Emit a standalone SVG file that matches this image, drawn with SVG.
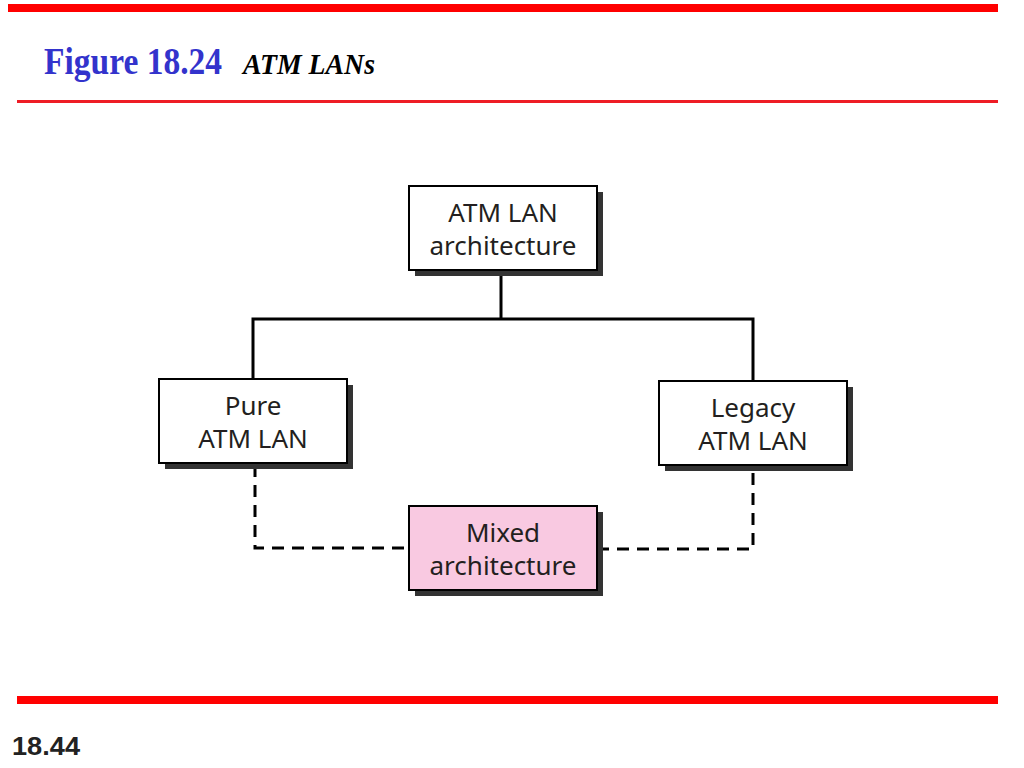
<svg xmlns="http://www.w3.org/2000/svg" width="1024" height="768" viewBox="0 0 1024 768">
<style>
.box{fill:#fff;stroke:#000;stroke-width:2}
.shadow{fill:#333}
.lbl{font-family:"Noto Sans","Open Sans",sans-serif;font-size:26px;fill:#231f20;text-anchor:middle}
.solid{fill:none;stroke:#000;stroke-width:3}
.dash{fill:none;stroke:#000;stroke-width:3;stroke-dasharray:12 8}
.title1{font-family:"Liberation Serif","Times New Roman",serif;font-weight:bold;font-size:37px;fill:#3333cc}
.title2{font-family:"Liberation Serif","Times New Roman",serif;font-weight:bold;font-style:italic;font-size:30px;fill:#000}
.pg{font-family:"Liberation Sans",Arial,sans-serif;font-weight:bold;font-size:25px;fill:#222}
</style>
<rect width="1024" height="768" fill="#fff"/>
<rect x="8" y="4" width="990" height="8" fill="#ff0000"/>
<rect x="17" y="100" width="981" height="3" fill="#ee1c25"/>
<rect x="17" y="696" width="981" height="8" fill="#ff0000"/>
<text class="title1" x="44" y="74" textLength="178" lengthAdjust="spacingAndGlyphs">Figure 18.24</text>
<text class="title2" x="243" y="74" textLength="132" lengthAdjust="spacingAndGlyphs">ATM LANs</text>
<text class="pg" x="12" y="755" textLength="68" lengthAdjust="spacingAndGlyphs">18.44</text>
<g id="connectors">
<polyline class="solid" points="501,270 501,319"/>
<polyline class="solid" points="253,379 253,319 753,319 753,381"/>
<polyline class="dash" points="255,465 255,548 409,548"/>
<polyline class="dash" points="597,549 753,549 753,468"/>
</g>
<g id="atm-lan-architecture">
<rect class="shadow" x="415" y="192" width="188" height="84"/>
<rect class="box" x="409" y="186" width="188" height="84"/>
<text class="lbl" x="503" y="222">ATM LAN</text>
<text class="lbl" x="503" y="255">architecture</text>
</g>
<g id="pure-atm-lan">
<rect class="shadow" x="165" y="385" width="188" height="84"/>
<rect class="box" x="159" y="379" width="188" height="84"/>
<text class="lbl" x="253" y="415">Pure</text>
<text class="lbl" x="253" y="448">ATM LAN</text>
</g>
<g id="legacy-atm-lan">
<rect class="shadow" x="665" y="387" width="188" height="84"/>
<rect class="box" x="659" y="381" width="188" height="84"/>
<text class="lbl" x="753" y="417">Legacy</text>
<text class="lbl" x="753" y="450">ATM LAN</text>
</g>
<g id="mixed-architecture">
<rect class="shadow" x="415" y="512" width="188" height="84"/>
<rect class="box" x="409" y="506" width="188" height="84" style="fill:#f9c9e1"/>
<text class="lbl" x="503" y="542">Mixed</text>
<text class="lbl" x="503" y="575">architecture</text>
</g>
</svg>
